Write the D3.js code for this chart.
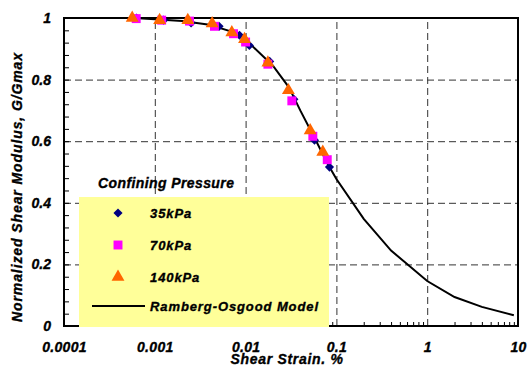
<!DOCTYPE html>
<html>
<head>
<meta charset="utf-8">
<script src="https://cdn.jsdelivr.net/npm/d3@7"></script>
<style>
  html, body { margin: 0; padding: 0; background: #ffffff; }
  svg text { font-family: "Liberation Sans", Arial, sans-serif; font-weight: bold; font-style: italic; fill: #000; stroke: #000; stroke-width: 0.35px; }
</style>
</head>
<body>
<svg id="chart" width="528" height="368"></svg>
<script>
// ---- data ----
const strain35 = [0.00063, 0.00125, 0.00251, 0.0051, 0.00857, 0.011, 0.0184, 0.034, 0.0574, 0.0839];
const g35      = [1.0, 0.993, 0.984, 0.973, 0.944, 0.911, 0.859, 0.736, 0.603, 0.516];
const strain70 = [0.000624, 0.00119, 0.00241, 0.00454, 0.00736, 0.01, 0.0176, 0.0323, 0.055, 0.0793];
const g70      = [0.998, 0.993, 0.99, 0.973, 0.949, 0.922, 0.85, 0.731, 0.616, 0.54];
const strain140 = [0.000564, 0.00113, 0.00231, 0.00428, 0.00705, 0.00973, 0.0176, 0.0296, 0.0514, 0.0708];
const g140      = [1.0, 0.993, 0.993, 0.982, 0.953, 0.931, 0.855, 0.765, 0.635, 0.565];
const strainModel = [0.0006, 0.001, 0.002, 0.004, 0.007, 0.01, 0.02, 0.03, 0.04, 0.06, 0.08, 0.1, 0.2, 0.4, 1, 2, 4, 9];
const gModel      = [1.0, 0.996, 0.99, 0.978, 0.956, 0.93, 0.845, 0.775, 0.7, 0.6, 0.527, 0.477, 0.348, 0.245, 0.146, 0.094, 0.062, 0.035];
const xTickValues = [0.0001, 0.001, 0.01, 0.1, 1, 10];
const xTickLabels = ["0.0001", "0.001", "0.01", "0.1", "1", "10"];
const yTickValues = [0, 0.2, 0.4, 0.6, 0.8, 1];
const yTickLabels = ["0", "0.2", "0.4", "0.6", "0.8", "1"];
const seriesNames = ["35kPa", "70kPa", "140kPa", "Ramberg-Osgood Model"];
const legendTitle = "Confining Pressure";
const xTitle = "Shear Strain. %";
const yTitle = "Normalized Shear Modulus, G/Gmax";

// ---- layout ----
const L = 64, R = 518, T = 18, B = 326;
const svg = d3.select("#chart");
const x = d3.scaleLog().domain([1e-4, 10]).range([L, R]);
const y = d3.scaleLinear().domain([0, 1]).range([B, T]);

// grid
const gridStyle = g => g.selectAll("line").attr("stroke", "#333").attr("stroke-width", 1).attr("stroke-dasharray", "7,4");
svg.append("g").attr("transform", `translate(0,${B})`)
  .call(d3.axisTop(x).tickValues([0.001, 0.01, 0.1, 1]).tickSize(B - T).tickFormat(""))
  .call(g => g.select(".domain").remove()).call(gridStyle);
svg.append("g").attr("transform", `translate(${L},0)`)
  .call(d3.axisRight(y).tickValues([0.2, 0.4, 0.6, 0.8]).tickSize(R - L).tickFormat(""))
  .call(g => g.select(".domain").remove()).call(gridStyle);

// minor ticks
const minorX = [];
for (let e = -4; e < 1; e++) for (let m = 2; m <= 9; m++) minorX.push(m * Math.pow(10, e));
svg.append("g").attr("transform", `translate(0,${B})`)
  .call(d3.axisTop(x).tickValues(minorX).tickSize(4).tickFormat(""))
  .call(g => g.select(".domain").remove())
  .call(g => g.selectAll("line").attr("stroke", "#000"));
const minorY = d3.range(0, 26).map(i => i * 0.04);
svg.append("g").attr("transform", `translate(${L},0)`)
  .call(d3.axisRight(y).tickValues(minorY).tickSize(5).tickFormat(""))
  .call(g => g.select(".domain").remove())
  .call(g => g.selectAll("line").attr("stroke", "#000"));

// frame
svg.append("rect").attr("x", L).attr("y", T).attr("width", R - L).attr("height", B - T)
  .attr("fill", "none").attr("stroke", "#000").attr("stroke-width", 2);

// axis labels
const styleText = g => g.selectAll("text").attr("font-size", 14)
  .style("font-family", "'Liberation Sans', Arial, sans-serif")
  .style("font-weight", "bold").style("font-style", "italic").attr("fill", "#000");
svg.append("g").attr("transform", `translate(0,${B})`)
  .call(d3.axisBottom(x).tickValues(xTickValues).tickSize(0).tickPadding(16)
    .tickFormat((d, i) => xTickLabels[i]))
  .call(g => g.select(".domain").remove())
  .call(styleText).call(g => g.selectAll("text").attr("letter-spacing", 0.3));
svg.append("g").attr("transform", `translate(${L},0)`)
  .call(d3.axisLeft(y).tickValues(yTickValues).tickSize(0).tickPadding(13)
    .tickFormat((d, i) => yTickLabels[i]))
  .call(g => g.select(".domain").remove())
  .call(styleText);

// titles
svg.append("text").attr("x", 287).attr("y", 364).attr("text-anchor", "middle")
  .attr("font-size", 14).attr("letter-spacing", 0.7).text(xTitle);
svg.append("text").attr("transform", "translate(22,187) rotate(-90)").attr("text-anchor", "middle")
  .attr("font-size", 14).attr("letter-spacing", 0.9).text(yTitle);

// model line
const line = d3.line().x(d => x(d[0])).y(d => y(d[1]));
svg.append("path").datum(strainModel.map((s, i) => [s, gModel[i]]))
  .attr("d", line).attr("fill", "none").attr("stroke", "#000").attr("stroke-width", 2);

// markers
const sym = {
  diamond: d3.symbol().type(d3.symbolSquare).size(42),
  square: d3.symbol().type(d3.symbolSquare).size(80),
  triangle: d3.symbol().type(d3.symbolTriangle).size(72)
};
function drawSeries(xs, ys, type, color, rot) {
  svg.append("g").selectAll("path").data(xs.map((s, i) => [s, ys[i]])).join("path")
    .attr("d", sym[type])
    .attr("transform", d => `translate(${x(d[0])},${y(d[1])})${rot ? " rotate(45)" : ""}`)
    .attr("fill", color);
}
drawSeries(strain35, g35, "diamond", "#000080", true);
drawSeries(strain70, g70, "square", "#FF00FF", false);
drawSeries(strain140, g140, "triangle", "#FF6600", false);

// legend
svg.append("text").attr("x", 98).attr("y", 188).attr("font-size", 14).attr("letter-spacing", 0.4).text(legendTitle);
svg.append("rect").attr("x", 79).attr("y", 197).attr("width", 250).attr("height", 130).attr("fill", "#FFFF99");
const legY = [213, 245, 277, 306];
svg.append("path").attr("d", sym.diamond).attr("transform", `translate(118,${legY[0]}) rotate(45)`).attr("fill", "#000080");
svg.append("path").attr("d", sym.square).attr("transform", `translate(118,${legY[1]})`).attr("fill", "#FF00FF");
svg.append("path").attr("d", sym.triangle).attr("transform", `translate(118,${legY[2]})`).attr("fill", "#FF6600");
svg.append("line").attr("x1", 92).attr("x2", 145).attr("y1", legY[3]).attr("y2", legY[3]).attr("stroke", "#000").attr("stroke-width", 2);
seriesNames.forEach((n, i) => {
  svg.append("text").attr("x", 150).attr("y", legY[i]).attr("dy", "0.36em")
    .attr("font-size", 13).attr("letter-spacing", 0.9).text(n);
});
</script>
</body>
</html>
